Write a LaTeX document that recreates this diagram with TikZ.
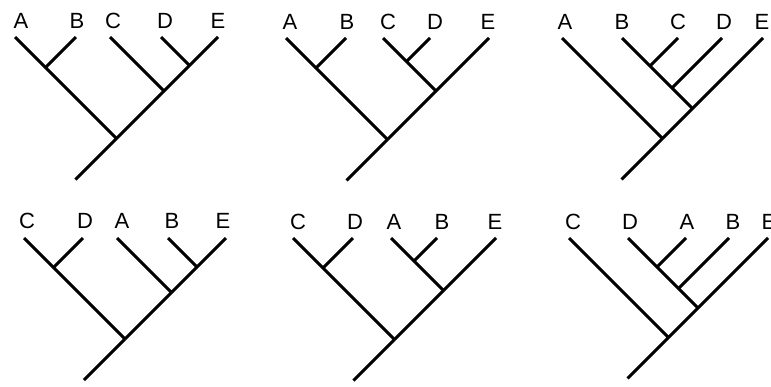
\documentclass[tikz,border=0pt]{standalone}
\usepackage{fontspec}
\setmainfont{Liberation Sans}
\begin{document}
\begin{tikzpicture}[x=1pt,y=-1pt,line width=3.1pt,
    every node/.style={font=\fontsize{22}{26}\selectfont,inner sep=0pt}]
  \useasboundingbox (0,0) rectangle (771,386);
  % taxon labels
  \draw
    (21,21) node (lA1){A}
    (77,21) node (lB1){B}
    (113,21) node (lC1){C}
    (165,21) node (lD1){D}
    (218,21) node (lE1){E}
    (290,22) node (lA2){A}
    (347,22) node (lB2){B}
    (388,22) node (lC2){C}
    (435,22) node (lD2){D}
    (488,22) node (lE2){E}
    (565,22) node (lA3){A}
    (622,22) node (lB3){B}
    (678,22) node (lC3){C}
    (724,22) node (lD3){D}
    (762,22) node (lE3){E}
    (27,221) node (lC4){C}
    (85,221) node (lD4){D}
    (122,221) node (lA4){A}
    (172,221) node (lB4){B}
    (223,221) node (lE4){E}
    (298,222) node (lC5){C}
    (355,222) node (lD5){D}
    (394,222) node (lA5){A}
    (442,222) node (lB5){B}
    (495,222) node (lE5){E}
    (573,222) node (lC6){C}
    (630,222) node (lD6){D}
    (687,222) node (lA6){A}
    (733,222) node (lB6){B}
    (769,222) node (lE6){E};
  % tips and branch points
  \path
    (15,37) coordinate (A1) (76,37) coordinate (B1) (110,37) coordinate (C1)
    (161,37) coordinate (D1) (218,37) coordinate (E1)
    (45.5,67.5) coordinate (AB1) (189.5,65.5) coordinate (DE1)
    (164,91) coordinate (CDE1) (116.5,138.5) coordinate (r1) (75.5,179.5) coordinate (s1)
    (286,38) coordinate (A2) (346,38) coordinate (B2) (383,38) coordinate (C2)
    (430,38) coordinate (D2) (489,38) coordinate (E2)
    (316,68) coordinate (AB2) (406.5,61.5) coordinate (CD2)
    (436,91) coordinate (CDE2) (387.5,139.5) coordinate (r2) (346.5,180.5) coordinate (s2)
    (562,38) coordinate (A3) (622,38) coordinate (B3) (678,38) coordinate (C3)
    (722,38) coordinate (D3) (763,38) coordinate (E3)
    (650,66) coordinate (BC3) (672,88) coordinate (BCD3)
    (692.5,108.5) coordinate (BCDE3) (662.5,138.5) coordinate (r3) (621.5,179.5) coordinate (s3)
    (24,238) coordinate (C4) (83,238) coordinate (D4) (117,238) coordinate (A4)
    (168,238) coordinate (B4) (226,238) coordinate (E4)
    (53.5,267.5) coordinate (CD4) (197,267) coordinate (BE4)
    (171.5,292.5) coordinate (ABE4) (125,339) coordinate (r4) (84,380) coordinate (s4)
    (293,238) coordinate (C5) (353,238) coordinate (D5) (391,238) coordinate (A5)
    (437,238) coordinate (B5) (496,238) coordinate (E5)
    (323,268) coordinate (CD5) (414,261) coordinate (AB5)
    (443.5,290.5) coordinate (ABE5) (394.5,339.5) coordinate (r5) (353.5,380.5) coordinate (s5)
    (569,238) coordinate (C6) (628,238) coordinate (D6) (686,238) coordinate (A6)
    (729,238) coordinate (B6) (768,238) coordinate (E6)
    (657,267) coordinate (DA6) (678.5,288.5) coordinate (DAB6)
    (698,308) coordinate (DABE6) (668.5,337.5) coordinate (r6) (627.5,378.5) coordinate (s6);
  \begin{scope}[-]
    \draw (A1) to (r1);
    \draw (B1) to (AB1);
    \draw (C1) to (CDE1);
    \draw (D1) to (DE1);
    \draw (E1) to (r1);
    \draw (r1) to (s1);
    \draw (A2) to (r2);
    \draw (B2) to (AB2);
    \draw (C2) to (CDE2);
    \draw (D2) to (CD2);
    \draw (E2) to (r2);
    \draw (r2) to (s2);
    \draw (A3) to (r3);
    \draw (B3) to (BCDE3);
    \draw (C3) to (BC3);
    \draw (D3) to (BCD3);
    \draw (E3) to (r3);
    \draw (r3) to (s3);
    \draw (C4) to (r4);
    \draw (D4) to (CD4);
    \draw (A4) to (ABE4);
    \draw (B4) to (BE4);
    \draw (E4) to (r4);
    \draw (r4) to (s4);
    \draw (C5) to (r5);
    \draw (D5) to (CD5);
    \draw (A5) to (ABE5);
    \draw (B5) to (AB5);
    \draw (E5) to (r5);
    \draw (r5) to (s5);
    \draw (C6) to (r6);
    \draw (D6) to (DABE6);
    \draw (A6) to (DA6);
    \draw (B6) to (DAB6);
    \draw (E6) to (r6);
    \draw (r6) to (s6);
  \end{scope}
\end{tikzpicture}
\end{document}
